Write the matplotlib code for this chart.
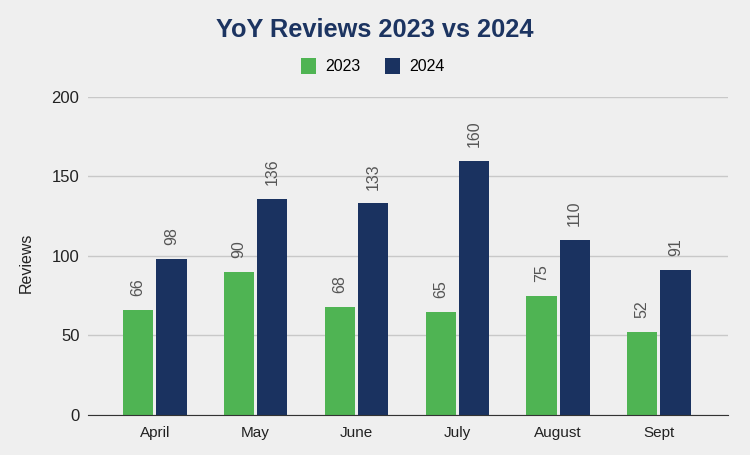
import numpy as np
import matplotlib
matplotlib.use('Agg')
import matplotlib.pyplot as plt

months = ['April', 'May', 'June', 'July', 'August', 'Sept']
reviews_2023 = [66, 90, 68, 65, 75, 52]
reviews_2024 = [98, 136, 133, 160, 110, 91]

bg = '#efefef'
green = '#4fb453'
navy = '#1a3260'

plt.rcParams['font.family'] = ['Liberation Sans', 'DejaVu Sans']

fig = plt.figure(figsize=(7.5, 4.55), dpi=100, facecolor=bg)
ax = fig.add_axes([0.117, 0.088, 0.853, 0.699], facecolor=bg)

x = np.arange(len(months))
w = 0.30
off = 0.165
b1 = ax.bar(x - off, reviews_2023, w, color=green, label='2023', zorder=3)
b2 = ax.bar(x + off, reviews_2024, w, color=navy, label='2024', zorder=3)

for bars, vals in [(b1, reviews_2023), (b2, reviews_2024)]:
    for b, v in zip(bars, vals):
        ax.annotate(str(v), (b.get_x() + b.get_width() / 2, v),
                    xytext=(0, 10), textcoords='offset points',
                    rotation=90, ha='center', va='bottom',
                    fontsize=11.5, color='#555555')

ax.set_ylim(0, 200)
ax.set_yticks([0, 50, 100, 150, 200])
ax.set_xlim(-0.665, 5.68)
ax.set_xticks(x)
ax.set_xticklabels(months)
ax.yaxis.grid(True, color='#c8c8c8', lw=1, zorder=0)
ax.tick_params(axis='both', length=0, labelsize=11, colors='#222222')
ax.tick_params(axis='x', pad=8)
ax.tick_params(axis='y', pad=6, labelsize=12)
for s in ['top', 'right', 'left']:
    ax.spines[s].set_visible(False)
ax.spines['bottom'].set_color('#333333')
ax.spines['bottom'].set_zorder(4)
ax.set_ylabel('Reviews', fontsize=11.5, color='#222222', labelpad=13, y=0.478)

fig.text(0.5, 0.934, 'YoY Reviews 2023 vs 2024', ha='center', va='center',
         fontsize=18.3, fontweight='bold', color='#1c3461')
fig.legend(handles=[b1, b2], labels=['2023', '2024'], loc='center',
           bbox_to_anchor=(0.497, 0.855), ncol=2, frameon=False,
           fontsize=11.5, handlelength=0.95, handleheight=1.2,
           columnspacing=1.5, handletextpad=0.6)

fig.savefig('out.png', dpi=100, facecolor=bg)
